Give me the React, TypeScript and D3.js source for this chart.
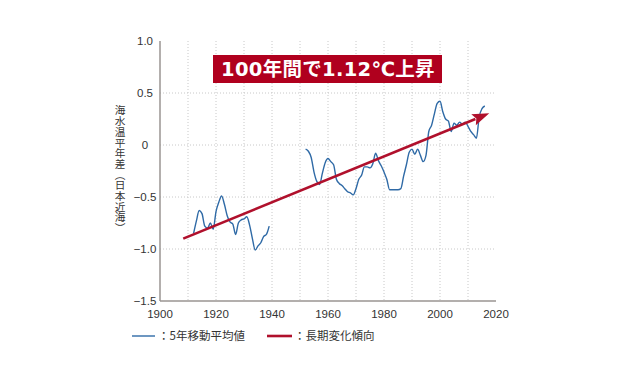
import React from 'react';
import * as d3 from 'd3';

// 5-year moving average, segment 1 (starts 1912)
const seg1Start = 1912;
const seg1Values = [
  -0.85, -0.73, -0.63, -0.66, -0.78, -0.80, -0.75, -0.81, -0.64, -0.55,
  -0.49, -0.57, -0.68, -0.74, -0.76, -0.86, -0.75, -0.72, -0.71, -0.69,
  -0.77, -0.90, -1.01, -0.97, -0.94, -0.88, -0.86, -0.78,
];
// segment 2 (starts 1952)
const seg2Start = 1952;
const seg2Values = [
  -0.04, -0.06, -0.12, -0.26, -0.35, -0.38, -0.27, -0.17, -0.13, -0.16,
  -0.19, -0.33, -0.37, -0.39, -0.42, -0.45, -0.46, -0.48, -0.42, -0.33,
  -0.29, -0.21, -0.21, -0.22, -0.18, -0.08, -0.15, -0.20, -0.26, -0.33,
  -0.43, -0.43, -0.43, -0.43, -0.42, -0.30, -0.19, -0.07, -0.04, -0.09,
  -0.04, -0.10, -0.16, -0.10, 0.13, 0.19, 0.30, 0.40, 0.42, 0.32,
  0.25, 0.23, 0.13, 0.21, 0.19, 0.22, 0.20, 0.22, 0.18, 0.13,
  0.10, 0.065, 0.27, 0.35, 0.375,
];
const trendYears = [1908.3, 2017.6];
const trendValues = [-0.9, 0.305];

const xTicks = [1900, 1920, 1940, 1960, 1980, 2000, 2020];
const xGrid = [1910, 1920, 1930, 1940, 1950, 1960, 1970, 1980, 1990, 2000, 2010];
const yTicks = [1.0, 0.5, 0, -0.5, -1.0, -1.5];
const yTickLabels = ['1.0', '0.5', '0', '−0.5', '−1.0', '−1.5'];
const yGrid = [0.5, 0, -0.5, -1.0];
const titleText = '100年間で1.12℃上昇';
const yTitle = '海水温平年差（日本近海）';
const legendLabels = ['：5年移動平均値', '：長期変化傾向'];

const BLUE = '#2f6aa6';
const RED = '#b0102c';
const FONT = '"Liberation Sans", Arial, "Noto Sans CJK JP", sans-serif';
const JFONT = '"Noto Sans CJK JP", sans-serif';
const TFONT = '"DejaVu Sans", "Noto Sans CJK JP", sans-serif';

export default function App() {
  const x = d3.scaleLinear().domain([1900, 2020]).range([160, 496]);
  const y = d3.scaleLinear().domain([-1.5, 1.0]).range([301, 41]);
  const line = d3
    .line<[number, number]>()
    .x((d) => x(d[0]))
    .y((d) => y(d[1]))
    .curve(d3.curveMonotoneX);
  const s1 = seg1Values.map((v, i) => [seg1Start + i, v] as [number, number]);
  const s2 = seg2Values.map((v, i) => [seg2Start + i, v] as [number, number]);

  const x0 = x(trendYears[0]);
  const y0 = y(trendValues[0]);
  const x1 = x(trendYears[1]);
  const y1 = y(trendValues[1]);
  const len = Math.hypot(x1 - x0, y1 - y0);
  const ux = (x1 - x0) / len;
  const uy = (y1 - y0) / len;
  const headL = 17;
  const headW = 6;
  const bx = x1 - ux * headL;
  const by = y1 - uy * headL;
  const arrowPts = [
    [x1, y1],
    [bx - uy * headW, by + ux * headW],
    [bx + ux * 3, by + uy * 3],
    [bx + uy * headW, by - ux * headW],
  ]
    .map((p) => p.join(','))
    .join(' ');

  return (
    <svg
      width={620}
      height={380}
      style={{ position: 'absolute', left: 0, top: 0, background: '#fff' }}
    >
      {/* grid */}
      {xGrid.map((g) => (
        <line
          key={'xg' + g}
          x1={x(g)}
          x2={x(g)}
          y1={y(1.0)}
          y2={y(-1.5)}
          stroke="#c8c8c8"
          strokeWidth={1}
          strokeDasharray="1,2"
        />
      ))}
      {yGrid.map((g) => (
        <line
          key={'yg' + g}
          x1={x(1900)}
          x2={x(2020)}
          y1={y(g)}
          y2={y(g)}
          stroke="#c8c8c8"
          strokeWidth={1}
          strokeDasharray="1,2"
        />
      ))}
      {/* axes */}
      <line x1={x(1900)} x2={x(1900)} y1={y(1.0)} y2={y(-1.5)} stroke="#9a9592" strokeWidth={1.5} />
      <line x1={x(1900)} x2={x(2020)} y1={y(-1.5)} y2={y(-1.5)} stroke="#9a9592" strokeWidth={1.5} />
      {/* tick labels */}
      {yTicks.map((t, i) => (
        <text
          key={'yt' + t}
          x={145}
          y={y(t)}
          dy="0.35em"
          textAnchor="middle"
          fontFamily={FONT}
          fontSize={11.5}
          fill="#333"
        >
          {yTickLabels[i]}
        </text>
      ))}
      {xTicks.map((t) => (
        <text
          key={'xt' + t}
          x={x(t)}
          y={318}
          textAnchor="middle"
          fontFamily={FONT}
          fontSize={11.5}
          fill="#333"
        >
          {t}
        </text>
      ))}
      {/* y title */}
      <text
        x={120}
        y={105}
        fontFamily={JFONT}
        fontSize={10.7}
        fill="#333"
        style={{ writingMode: 'vertical-rl' } as React.CSSProperties}
      >
        {yTitle}
      </text>
      {/* data */}
      <path d={line(s1) || ''} fill="none" stroke={BLUE} strokeWidth={1.4} />
      <path d={line(s2) || ''} fill="none" stroke={BLUE} strokeWidth={1.4} />
      {/* trend arrow */}
      <line x1={x0} y1={y0} x2={bx + ux * 2} y2={by + uy * 2} stroke={RED} strokeWidth={2.6} />
      <polygon points={arrowPts} fill={RED} />
      {/* title box */}
      <rect x={213} y={55} width={229} height={28} fill="#b0001e" />
      <text
        x={328}
        y={69}
        dy="0.36em"
        textAnchor="middle"
        fontFamily={TFONT}
        fontWeight="bold"
        fontSize={19.5}
        letterSpacing={0.3}
        fill="#fff"
      >
        {titleText}
      </text>
      {/* legend */}
      <line x1={132} x2={155} y1={336} y2={336} stroke={BLUE} strokeWidth={1.4} />
      <text x={158} y={336} dy="0.36em" fontFamily={JFONT} fontSize={11.5} fill="#333">
        {legendLabels[0]}
      </text>
      <line x1={267} x2={292} y1={336} y2={336} stroke={RED} strokeWidth={2.6} />
      <text x={294} y={336} dy="0.36em" fontFamily={JFONT} fontSize={11.5} fill="#333">
        {legendLabels[1]}
      </text>
    </svg>
  );
}
